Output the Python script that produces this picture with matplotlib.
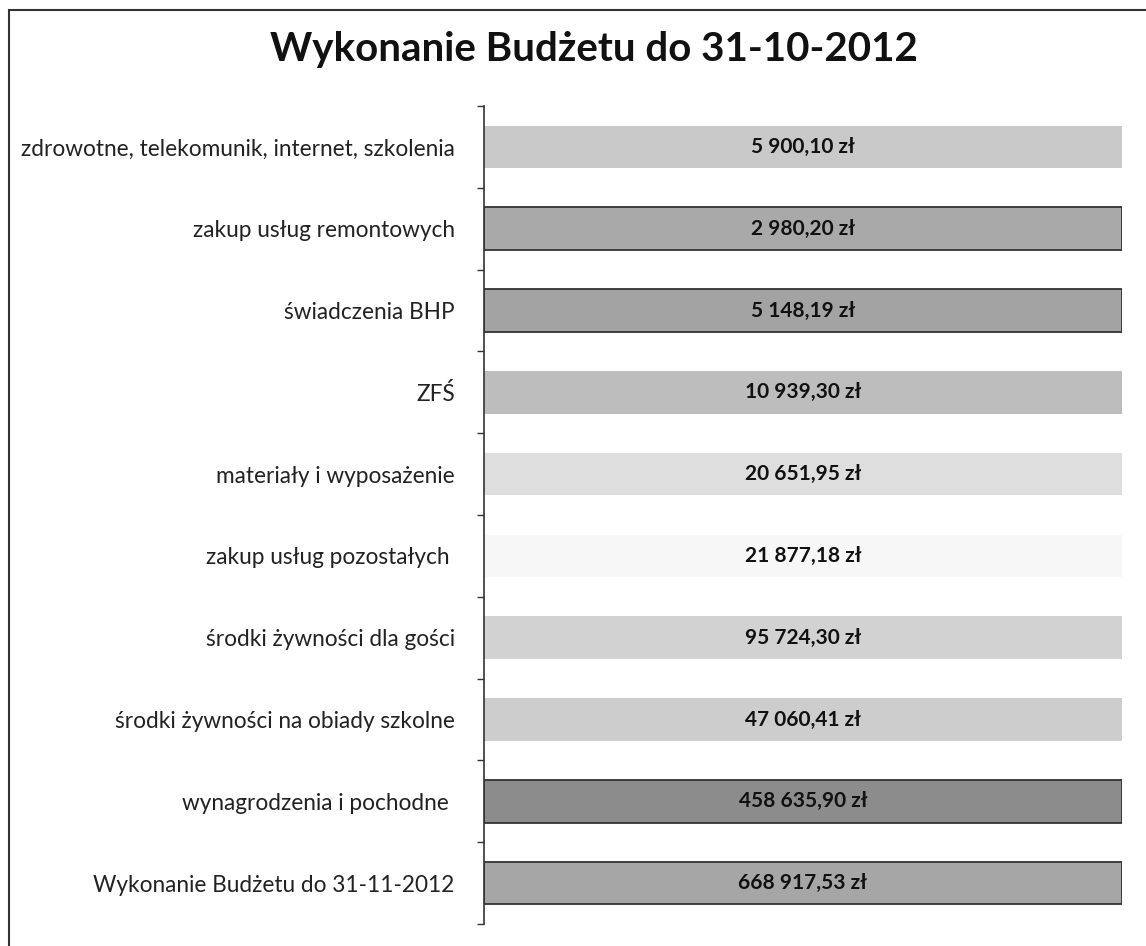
import matplotlib
matplotlib.use("Agg")
import matplotlib.pyplot as plt
from matplotlib.patches import Rectangle

# ---- data ----
title = "Wykonanie Budżetu do 31-10-2012"
categories = [
    "zdrowotne, telekomunik, internet, szkolenia",
    "zakup usług remontowych",
    "świadczenia BHP",
    "ZFŚ",
    "materiały i wyposażenie",
    "zakup usług pozostałych ",
    "środki żywności dla gości",
    "środki żywności na obiady szkolne",
    "wynagrodzenia i pochodne ",
    "Wykonanie Budżetu do 31-11-2012",
]
values = [5900.10, 2980.20, 5148.19, 10939.30, 20651.95,
          21877.18, 95724.30, 47060.41, 458635.90, 668917.53]
# every row is drawn as 100 % of its own total
shares = [v / v for v in values]
bar_colors = ["#c9c9c9", "#a9a9a9", "#a3a3a3", "#bdbdbd", "#dedede",
              "#f7f7f7", "#d2d2d2", "#cdcdcd", "#8c8c8c", "#a6a6a6"]
edge_colors = ["none", "#333333", "#333333", "none", "none",
               "none", "none", "none", "#333333", "#333333"]


def pl_money(v):
    s = f"{v:,.2f}"
    s = s.replace(",", " ").replace(".", ",")
    return s + " zł"


labels = [pl_money(v) for v in values]

plt.rcParams['font.family'] = ['Lato', 'DejaVu Sans']

fig = plt.figure(figsize=(11.46, 9.46), dpi=100)
W, H = 1146, 946
ax = fig.add_axes([484 / W, 1 - 924 / H, (1122 - 484) / W, (924 - 106) / H])

y = list(range(len(categories)))
for i in y:
    ax.barh(i, shares[i], height=0.52, color=bar_colors[i],
            edgecolor=edge_colors[i], linewidth=1.3 if edge_colors[i] != "none" else 0)
    ax.text(shares[i] / 2, i, labels[i], ha="center", va="center",
            fontsize=15, fontweight="bold", color="#111111")

ax.set_xlim(0, 1)
ax.set_ylim(-0.5, len(categories) - 0.5)
ax.invert_yaxis()
ax.set_yticks(y)
ax.set_yticklabels(categories, fontsize=16.3, color="#222222")
ax.tick_params(axis="y", which="major", length=0, pad=21)
ax.set_yticks([i - 0.5 for i in range(len(categories) + 1)], minor=True)
ax.tick_params(axis="y", which="minor", length=5, width=1, color="#333333", direction="out")
ax.set_xticks([])
for s in ["top", "right", "bottom"]:
    ax.spines[s].set_visible(False)
ax.spines["left"].set_color("#333333")
ax.spines["left"].set_linewidth(1.2)

fig.text(594 / W, 1 - 50 / H, title, ha="center", va="center",
         fontsize=29, fontweight="bold", color="#111111")

# outer chart frame
fig.patches.append(Rectangle((9 / W, -0.05), 1.2, 1 - 10 / H + 0.05,
                             transform=fig.transFigure, fill=False,
                             edgecolor="#333333", linewidth=1.5))

fig.savefig("out.png", dpi=100)
